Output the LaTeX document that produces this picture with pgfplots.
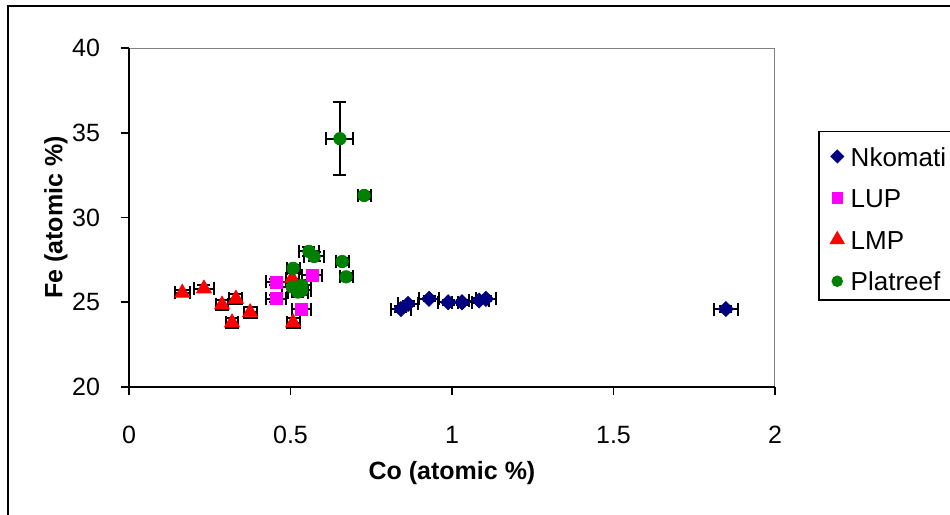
\documentclass[border=0pt]{standalone}
\usepackage{fontspec}
\setmainfont{Liberation Sans}
\usepackage{pgfplots}
\pgfplotsset{compat=1.18}
\definecolor{nkcol}{HTML}{000080}
\definecolor{lupcol}{HTML}{FF00FF}
\definecolor{lmpcol}{HTML}{FF0000}
\definecolor{platcol}{HTML}{008000}
\definecolor{framegray}{HTML}{808080}

% x  y  ex  ey
\pgfplotstableread{
x y ex ey
0.842 24.6 0.03 0.15
0.864 24.9 0.03 0.15
0.929 25.2 0.03 0.15
0.988 25.0 0.03 0.15
1.031 25.0 0.03 0.15
1.084 25.1 0.03 0.15
1.105 25.2 0.03 0.15
1.848 24.6 0.037 0.15
}\nkomati
\pgfplotstableread{
x y ex ey
0.455 26.2 0.03 0.2
0.455 25.2 0.03 0.2
0.567 26.6 0.03 0.2
0.535 24.6 0.03 0.2
}\lup
\pgfplotstableread{
x y ex ey
0.165 25.55 0.023 0.2
0.232 25.8 0.031 0.2
0.288 24.85 0.02 0.3
0.331 25.2 0.02 0.3
0.375 24.4 0.02 0.3
0.319 23.8 0.02 0.3
0.508 23.8 0.02 0.3
0.505 26.4 0.02 0.3
}\lmp
\pgfplotstableread{
x y ex ey
0.653 34.65 0.042 2.15
0.728 31.3 0.02 0.2
0.557 28.0 0.03 0.25
0.573 27.7 0.03 0.25
0.660 27.4 0.02 0.2
0.672 26.5 0.02 0.2
0.508 27.0 0.02 0.2
0.505 25.9 0.03 0.3
0.535 26.0 0.03 0.3
0.523 25.6 0.03 0.3
0.535 25.7 0.03 0.3
}\plat

\begin{document}
\begin{tikzpicture}
\begin{axis}[
    scale only axis,
    width=323pt, height=169.5pt,
    xmin=0, xmax=2, ymin=20, ymax=40,
    xtick={0,0.5,...,2}, ytick={20,25,...,40},
    axis line style={framegray, line width=0.5pt},
    tick style={black, line width=0.8pt},
    tick align=outside, major tick length=4pt,
    xtick pos=bottom, ytick pos=left,
    font=\fontsize{12.5}{15}\selectfont,
    ticklabel style={font=\fontsize{12.5}{15}\selectfont},
    /pgf/number format/assume math mode=true,
    xticklabel style={yshift=-12pt},
    yticklabel style={xshift=-7pt},
    xlabel={\bfseries Co (atomic \%)},
    ylabel={\bfseries Fe (atomic \%)},
    every axis x label/.style={at={(axis description cs:0.5,-0.2537)}, anchor=center},
    every axis y label/.style={at={(axis description cs:-0.113,0.5)}, anchor=center, rotate=90},
    legend cell align=left,
    legend style={at={(axis description cs:1.0666,0.7552)}, anchor=north west,
        draw=black, line width=0.75pt, row sep=8.1pt, column sep=1.5pt,
        inner xsep=6pt, inner ysep=4.5pt,
        nodes={text height=12.7pt, text depth=0pt, inner ysep=0pt},
        font=\fontsize{13}{15}\selectfont},
    error bars/error bar style={black, line width=1pt},
    error bars/error mark options={black, line width=1pt, mark size=3.25pt, rotate=90},
]
\addplot+[only marks, mark=square*, mark size=2.65pt, mark options={rotate=45, fill=nkcol, draw=nkcol},
    legend image post style={yshift=-1.5pt, every mark/.append style={scale=0.8}},
    error bars/.cd, x dir=both, x explicit, y dir=both, y explicit]
    table[x=x, y=y, x error=ex, y error=ey] {\nkomati};
\addlegendentry{Nkomati}
\addplot+[only marks, mark=square*, mark size=3pt, mark options={fill=lupcol, draw=lupcol},
    legend image post style={yshift=-1.5pt, every mark/.append style={scale=0.83}},
    error bars/.cd, x dir=both, x explicit, y dir=both, y explicit]
    table[x=x, y=y, x error=ex, y error=ey] {\lup};
\addlegendentry{LUP}
\addplot+[only marks, mark=triangle*, mark size=4.3pt, mark options={fill=lmpcol, draw=lmpcol},
    legend image post style={yshift=-1.5pt, every mark/.append style={scale=0.87}},
    error bars/.cd, x dir=both, x explicit, y dir=both, y explicit]
    table[x=x, y=y, x error=ex, y error=ey] {\lmp};
\addlegendentry{LMP}
\addplot+[only marks, mark=*, mark size=3.1pt, mark options={fill=platcol, draw=platcol},
    legend image post style={yshift=-1.5pt, every mark/.append style={scale=0.8}},
    error bars/.cd, x dir=both, x explicit, y dir=both, y explicit]
    table[x=x, y=y, x error=ex, y error=ey] {\plat};
\addlegendentry{Platreef}
\end{axis}
% black left and bottom axes
\draw[black, line width=1pt] (0,169.5pt) -- (0,0) -- (323pt,0);
% outer chart frame (right and bottom fall outside the picture)
\draw[black, line width=0.8pt] (-60.5pt,-90pt) -- (-60.5pt,190.5pt) -- (440pt,190.5pt);
\pgfresetboundingbox
\path[use as bounding box] (-64.5pt,-64pt) rectangle (410.5pt,193.5pt);
\end{tikzpicture}
\end{document}
